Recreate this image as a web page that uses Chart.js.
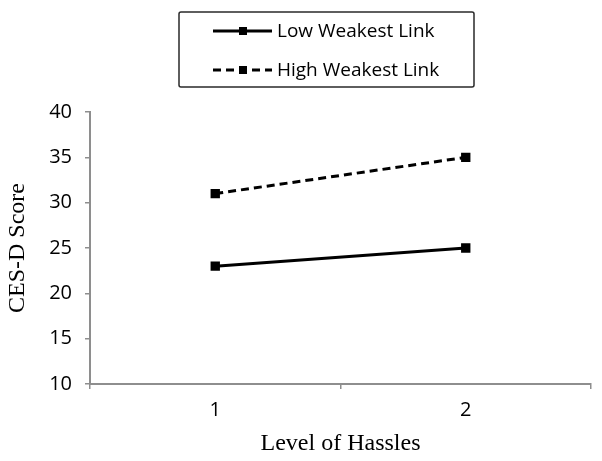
<!DOCTYPE html>
<html>
<head>
<meta charset="utf-8">
<script src="https://cdn.jsdelivr.net/npm/chart.js@4/dist/chart.umd.min.js"></script>
<style>
  html, body { margin: 0; padding: 0; background: #fff; }
  #wrap { width: 602px; height: 461px; }
</style>
</head>
<body>
<div id="wrap"><canvas id="chart"></canvas></div>
<script>
// ---- data ----
const hassleLevels   = ['1', '2'];
const lowWeakest     = [23, 25];
const highWeakest    = [31, 35];
const seriesNames    = ['Low Weakest Link', 'High Weakest Link'];
const yMin = 10, yMax = 40, yStep = 5;

const AXIS_GRAY = '#8e8e8e';
const SANS  = '"Open Sans", "Liberation Sans", sans-serif';
const SERIF = '"Liberation Serif", "DejaVu Serif", serif';

// boxed legend drawn on top, lines + markers like the plotted series
const boxLegend = {
  id: 'boxLegend',
  afterDraw(chart) {
    const { ctx } = chart;
    const x0 = 179, y0 = 12, w = 295, h = 75;
    ctx.save();
    ctx.strokeStyle = '#2a2a2a';
    ctx.lineWidth = 1.5;
    ctx.beginPath();
    ctx.roundRect(x0, y0, w, h, 2);
    ctx.stroke();

    chart.data.datasets.forEach((ds, i) => {
      const y = 31 + i * 39;
      ctx.strokeStyle = ds.borderColor;
      ctx.lineWidth = ds.borderWidth;
      ctx.setLineDash(ds.borderDash || []);
      ctx.beginPath();
      ctx.moveTo(213, y);
      ctx.lineTo(272, y);
      ctx.stroke();
      ctx.setLineDash([]);
      ctx.fillStyle = ds.pointBackgroundColor;
      ctx.fillRect(239, y - 4, 8, 8);

      ctx.fillStyle = '#000';
      ctx.font = `19px ${SANS}`;
      ctx.textAlign = 'left';
      ctx.textBaseline = 'middle';
      ctx.fillText(ds.label, 277, y + 1);
    });
    ctx.restore();
  }
};

const lineStyle = {
  borderColor: '#000',
  backgroundColor: '#000',
  pointBackgroundColor: '#000',
  pointBorderColor: '#000',
  borderWidth: 3,
  pointStyle: 'rect',
  pointRadius: 4.5,
  pointHoverRadius: 4.5,
  tension: 0,
  fill: false
};

new Chart(document.getElementById('chart').getContext('2d'), {
  type: 'line',
  data: {
    labels: hassleLevels,
    datasets: [
      { ...lineStyle, label: seriesNames[0], data: lowWeakest },
      { ...lineStyle, label: seriesNames[1], data: highWeakest, borderDash: [8, 5] }
    ]
  },
  options: {
    responsive: true,
    maintainAspectRatio: false,
    animation: false,
    layout: { padding: { top: 112, right: 11, left: 0, bottom: 0 } },
    plugins: {
      legend: { display: false },
      tooltip: { enabled: false }
    },
    scales: {
      x: {
        type: 'category',
        offset: true,
        grid: {
          offset: true,
          drawOnChartArea: false,
          drawTicks: true,
          tickLength: 5,
          color: AXIS_GRAY,
          lineWidth: 1.5
        },
        border: { color: AXIS_GRAY, width: 2 },
        ticks: {
          color: '#000',
          font: { size: 20, family: SANS },
          padding: 9
        },
        title: {
          display: true,
          text: 'Level of Hassles',
          color: '#000',
          font: { size: 24, family: SERIF },
          padding: { top: 0, bottom: 3 }
        },
        afterFit(axis) { axis.height = 77; }
      },
      y: {
        min: yMin,
        max: yMax,
        grid: {
          drawOnChartArea: false,
          drawTicks: true,
          tickLength: 5,
          color: AXIS_GRAY,
          lineWidth: 1.5
        },
        border: { color: AXIS_GRAY, width: 2 },
        ticks: {
          stepSize: yStep,
          color: '#000',
          font: { size: 20, family: SANS },
          padding: 13
        },
        title: {
          display: true,
          text: 'CES-D Score',
          color: '#000',
          font: { size: 24, family: SERIF },
          padding: { top: 3, bottom: 0 }
        },
        afterFit(axis) { axis.width = 90; }
      }
    }
  },
  plugins: [boxLegend]
});
</script>
</body>
</html>
